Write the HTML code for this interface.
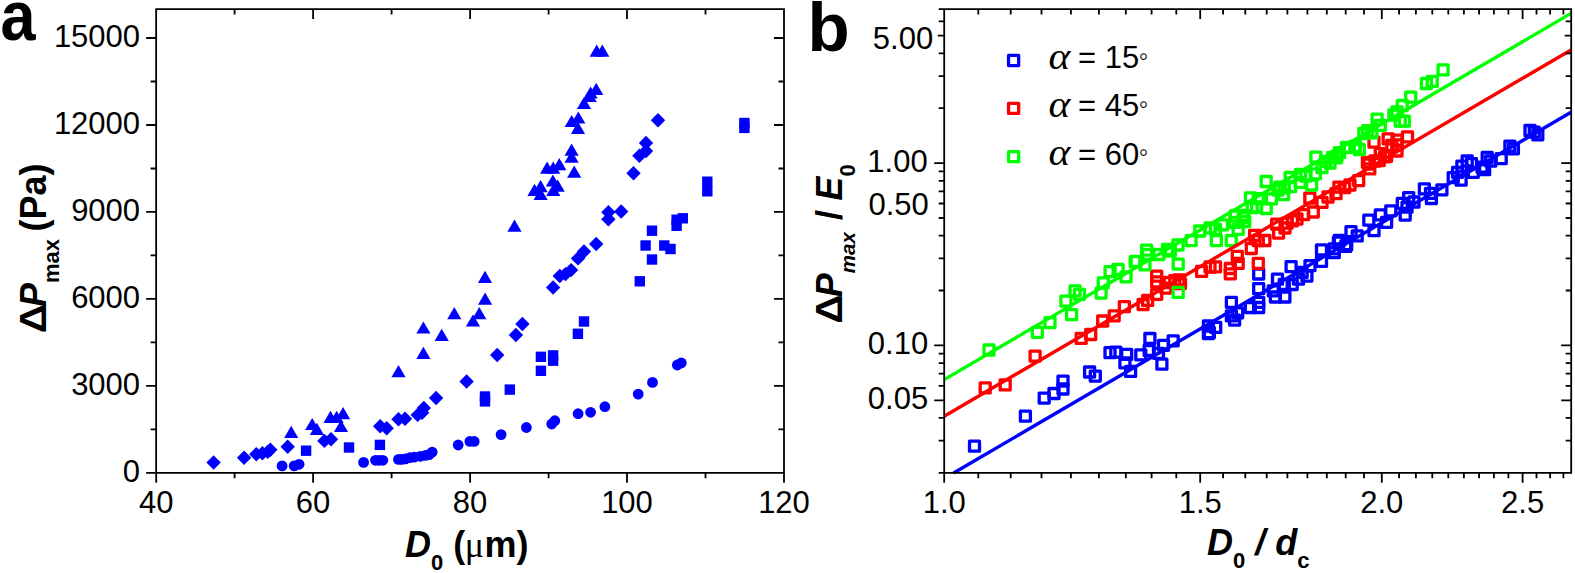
<!DOCTYPE html>
<html lang="en"><head><meta charset="utf-8"><title>Figure</title>
<style>html,body{margin:0;padding:0;background:#fff}svg{display:block}text{font-family:"Liberation Sans",Arial,sans-serif;fill:#000}.t{font-size:31px}.b{font-weight:bold}.i{font-style:italic}.al{font-family:"Liberation Serif","DejaVu Serif",serif;font-style:italic}</style></head><body>
<svg width="1575" height="573" viewBox="0 0 1575 573">
<rect width="1575" height="573" fill="#fff"/>
<g id="panel-a">
<g fill="#0000ff">
<circle cx="282.1" cy="465.9" r="5.4"/>
<circle cx="294.2" cy="465.9" r="5.4"/>
<circle cx="299.1" cy="464.3" r="5.4"/>
<circle cx="363.6" cy="462.4" r="5.4"/>
<circle cx="375.5" cy="460.3" r="5.4"/>
<circle cx="379.0" cy="460.3" r="5.4"/>
<circle cx="382.8" cy="460.3" r="5.4"/>
<circle cx="398.5" cy="459.4" r="5.4"/>
<circle cx="402.0" cy="459.4" r="5.4"/>
<circle cx="405.5" cy="458.9" r="5.4"/>
<circle cx="409.9" cy="457.7" r="5.4"/>
<circle cx="414.2" cy="457.1" r="5.4"/>
<circle cx="420.3" cy="456.3" r="5.4"/>
<circle cx="425.6" cy="455.4" r="5.4"/>
<circle cx="429.1" cy="454.7" r="5.4"/>
<circle cx="432.2" cy="452.1" r="5.4"/>
<circle cx="458.2" cy="445.0" r="5.4"/>
<circle cx="469.9" cy="441.4" r="5.4"/>
<circle cx="474.2" cy="441.4" r="5.4"/>
<circle cx="501.1" cy="434.6" r="5.4"/>
<circle cx="526.4" cy="427.5" r="5.4"/>
<circle cx="551.7" cy="424.0" r="5.4"/>
<circle cx="554.8" cy="420.7" r="5.4"/>
<circle cx="578.1" cy="413.7" r="5.4"/>
<circle cx="590.6" cy="412.3" r="5.4"/>
<circle cx="604.9" cy="406.7" r="5.4"/>
<circle cx="638.2" cy="394.1" r="5.4"/>
<circle cx="652.5" cy="382.4" r="5.4"/>
<circle cx="677.3" cy="365.0" r="5.4"/>
<circle cx="681.3" cy="363.0" r="5.4"/>
<rect x="300.9" y="445.5" width="10.4" height="10.4"/>
<rect x="343.8" y="442.3" width="10.4" height="10.4"/>
<rect x="374.7" y="439.7" width="10.4" height="10.4"/>
<rect x="479.8" y="391.3" width="10.4" height="10.4"/>
<rect x="479.8" y="396.2" width="10.4" height="10.4"/>
<rect x="504.6" y="384.4" width="10.4" height="10.4"/>
<rect x="535.7" y="351.6" width="10.4" height="10.4"/>
<rect x="535.7" y="365.6" width="10.4" height="10.4"/>
<rect x="547.9" y="350.2" width="10.4" height="10.4"/>
<rect x="547.9" y="355.5" width="10.4" height="10.4"/>
<rect x="572.7" y="328.6" width="10.4" height="10.4"/>
<rect x="578.8" y="316.3" width="10.4" height="10.4"/>
<rect x="634.6" y="276.1" width="10.4" height="10.4"/>
<rect x="646.8" y="254.3" width="10.4" height="10.4"/>
<rect x="640.4" y="240.3" width="10.4" height="10.4"/>
<rect x="659.1" y="240.3" width="10.4" height="10.4"/>
<rect x="665.3" y="243.8" width="10.4" height="10.4"/>
<rect x="646.8" y="225.5" width="10.4" height="10.4"/>
<rect x="671.4" y="220.6" width="10.4" height="10.4"/>
<rect x="671.4" y="214.5" width="10.4" height="10.4"/>
<rect x="677.6" y="213.1" width="10.4" height="10.4"/>
<rect x="702.1" y="176.5" width="10.4" height="10.4"/>
<rect x="702.1" y="186.1" width="10.4" height="10.4"/>
<rect x="739.2" y="117.8" width="10.4" height="10.4"/>
<rect x="739.2" y="122.7" width="10.4" height="10.4"/>
<path d="M213.6 455.3L220.8 462.5L213.6 469.7L206.4 462.5Z"/>
<path d="M244.1 450.5L251.3 457.7L244.1 464.9L236.9 457.7Z"/>
<path d="M256.3 447.0L263.5 454.2L256.3 461.4L249.1 454.2Z"/>
<path d="M262.4 446.1L269.6 453.3L262.4 460.5L255.2 453.3Z"/>
<path d="M267.7 444.7L274.9 451.9L267.7 459.1L260.5 451.9Z"/>
<path d="M270.3 442.6L277.5 449.8L270.3 457.0L263.1 449.8Z"/>
<path d="M287.7 439.6L294.9 446.8L287.7 454.0L280.5 446.8Z"/>
<path d="M324.4 433.7L331.6 440.9L324.4 448.1L317.2 440.9Z"/>
<path d="M331.0 432.1L338.2 439.3L331.0 446.5L323.8 439.3Z"/>
<path d="M380.2 419.0L387.4 426.2L380.2 433.4L373.0 426.2Z"/>
<path d="M386.7 421.1L393.9 428.3L386.7 435.5L379.5 428.3Z"/>
<path d="M398.5 412.1L405.7 419.3L398.5 426.5L391.3 419.3Z"/>
<path d="M405.0 411.5L412.2 418.7L405.0 425.9L397.8 418.7Z"/>
<path d="M417.7 407.7L424.9 414.9L417.7 422.1L410.5 414.9Z"/>
<path d="M422.1 405.6L429.3 412.8L422.1 420.0L414.9 412.8Z"/>
<path d="M423.8 400.8L431.0 408.0L423.8 415.2L416.6 408.0Z"/>
<path d="M436.1 390.8L443.3 398.0L436.1 405.2L428.9 398.0Z"/>
<path d="M466.6 374.3L473.8 381.5L466.6 388.7L459.4 381.5Z"/>
<path d="M497.2 347.8L504.4 355.0L497.2 362.2L490.0 355.0Z"/>
<path d="M515.9 327.8L523.1 335.0L515.9 342.2L508.7 335.0Z"/>
<path d="M522.4 316.8L529.6 324.0L522.4 331.2L515.2 324.0Z"/>
<path d="M553.1 280.3L560.3 287.5L553.1 294.7L545.9 287.5Z"/>
<path d="M559.8 268.8L567.0 276.0L559.8 283.2L552.6 276.0Z"/>
<path d="M565.5 266.9L572.7 274.1L565.5 281.3L558.3 274.1Z"/>
<path d="M571.1 262.9L578.3 270.1L571.1 277.3L563.9 270.1Z"/>
<path d="M578.0 251.2L585.2 258.4L578.0 265.6L570.8 258.4Z"/>
<path d="M584.0 244.3L591.2 251.5L584.0 258.7L576.8 251.5Z"/>
<path d="M596.2 236.8L603.4 244.0L596.2 251.2L589.0 244.0Z"/>
<path d="M608.4 205.1L615.6 212.3L608.4 219.5L601.2 212.3Z"/>
<path d="M608.4 212.1L615.6 219.3L608.4 226.5L601.2 219.3Z"/>
<path d="M621.2 204.3L628.4 211.5L621.2 218.7L614.0 211.5Z"/>
<path d="M633.5 166.1L640.7 173.3L633.5 180.5L626.3 173.3Z"/>
<path d="M639.4 148.6L646.6 155.8L639.4 163.0L632.2 155.8Z"/>
<path d="M646.0 143.8L653.2 151.0L646.0 158.2L638.8 151.0Z"/>
<path d="M646.0 135.8L653.2 143.0L646.0 150.2L638.8 143.0Z"/>
<path d="M658.0 113.1L665.2 120.3L658.0 127.5L650.8 120.3Z"/>
<path d="M291.2 425.7L298.3 437.9L284.1 437.9Z"/>
<path d="M312.2 417.9L319.3 430.1L305.1 430.1Z"/>
<path d="M316.9 422.8L324.0 435.0L309.8 435.0Z"/>
<path d="M330.5 410.7L337.6 422.9L323.4 422.9Z"/>
<path d="M336.6 410.7L343.7 422.9L329.5 422.9Z"/>
<path d="M343.1 407.1L350.2 419.3L336.0 419.3Z"/>
<path d="M341.0 419.9L348.1 432.1L333.9 432.1Z"/>
<path d="M398.5 365.1L405.6 377.3L391.4 377.3Z"/>
<path d="M423.4 346.7L430.5 358.9L416.3 358.9Z"/>
<path d="M423.4 321.4L430.5 333.6L416.3 333.6Z"/>
<path d="M441.7 328.8L448.8 341.0L434.6 341.0Z"/>
<path d="M454.3 307.1L461.4 319.3L447.2 319.3Z"/>
<path d="M473.0 314.4L480.1 326.6L465.9 326.6Z"/>
<path d="M479.3 307.1L486.4 319.3L472.2 319.3Z"/>
<path d="M485.1 292.6L492.2 304.8L478.0 304.8Z"/>
<path d="M485.0 270.8L492.1 283.0L477.9 283.0Z"/>
<path d="M514.5 219.6L521.6 231.8L507.4 231.8Z"/>
<path d="M552.9 174.4L560.0 186.6L545.8 186.6Z"/>
<path d="M557.7 179.6L564.8 191.8L550.6 191.8Z"/>
<path d="M553.3 183.7L560.4 195.9L546.2 195.9Z"/>
<path d="M540.6 180.0L547.7 192.2L533.5 192.2Z"/>
<path d="M534.5 183.7L541.6 195.9L527.4 195.9Z"/>
<path d="M540.6 187.9L547.7 200.1L533.5 200.1Z"/>
<path d="M547.1 161.6L554.2 173.8L540.0 173.8Z"/>
<path d="M553.2 161.6L560.3 173.8L546.1 173.8Z"/>
<path d="M559.3 158.1L566.4 170.3L552.2 170.3Z"/>
<path d="M574.2 165.5L581.3 177.7L567.1 177.7Z"/>
<path d="M571.6 150.6L578.7 162.8L564.5 162.8Z"/>
<path d="M571.6 143.6L578.7 155.8L564.5 155.8Z"/>
<path d="M578.0 121.7L585.1 133.9L570.9 133.9Z"/>
<path d="M571.7 114.9L578.8 127.1L564.6 127.1Z"/>
<path d="M578.3 111.4L585.4 123.6L571.2 123.6Z"/>
<path d="M584.0 96.9L591.1 109.1L576.9 109.1Z"/>
<path d="M589.7 89.9L596.8 102.1L582.6 102.1Z"/>
<path d="M590.6 86.4L597.7 98.6L583.5 98.6Z"/>
<path d="M596.2 82.7L603.3 94.9L589.1 94.9Z"/>
<path d="M596.7 44.5L603.8 56.7L589.6 56.7Z"/>
<path d="M602.3 44.5L609.4 56.7L595.2 56.7Z"/>
</g>
<path d="M156.15 9.05H784.0V472.8H156.15Z M156.2 472.8v10 M234.6 472.8v5.5 M234.6 9.05v5.5 M313.1 472.8v10 M313.1 9.05v10 M391.6 472.8v5.5 M391.6 9.05v5.5 M470.1 472.8v10 M470.1 9.05v10 M548.6 472.8v5.5 M548.6 9.05v5.5 M627.0 472.8v10 M627.0 9.05v10 M705.5 472.8v5.5 M705.5 9.05v5.5 M784.0 472.8v10 M156.15 472.8h-10 M156.15 429.3h-5.5 M784.0 429.3h-5.5 M156.15 385.8h-10 M784.0 385.8h-10 M156.15 342.4h-5.5 M784.0 342.4h-5.5 M156.15 298.9h-10 M784.0 298.9h-10 M156.15 255.4h-5.5 M784.0 255.4h-5.5 M156.15 211.9h-10 M784.0 211.9h-10 M156.15 168.5h-5.5 M784.0 168.5h-5.5 M156.15 125.0h-10 M784.0 125.0h-10 M156.15 81.5h-5.5 M784.0 81.5h-5.5 M156.15 38.0h-10 M784.0 38.0h-10" fill="none" stroke="#000" stroke-width="1.8" stroke-linecap="butt"/>
<text class="t" x="140.1" y="482.1" text-anchor="end">0</text>
<text class="t" x="140.1" y="395.1" text-anchor="end">3000</text>
<text class="t" x="140.1" y="308.2" text-anchor="end">6000</text>
<text class="t" x="140.1" y="221.2" text-anchor="end">9000</text>
<text class="t" x="140.1" y="134.3" text-anchor="end">12000</text>
<text class="t" x="140.1" y="47.3" text-anchor="end">15000</text>
<text class="t" x="156.2" y="512.8" text-anchor="middle">40</text>
<text class="t" x="313.1" y="512.8" text-anchor="middle">60</text>
<text class="t" x="470.1" y="512.8" text-anchor="middle">80</text>
<text class="t" x="627.0" y="512.8" text-anchor="middle">100</text>
<text class="t" x="784.0" y="512.8" text-anchor="middle">120</text>
<text class="b" transform="translate(0.5 39.8) scale(0.9 1)" font-size="70">a</text>
<text class="b" x="405" y="557.4" font-size="36"><tspan class="i">D</tspan><tspan font-size="22" dy="12.5">0</tspan><tspan dy="-12.5"> (</tspan><tspan font-family="Liberation Serif,serif" font-weight="normal" dx="-0.5">μ</tspan><tspan dx="0.5">m)</tspan></text>
<text class="b" transform="translate(46 333.3) rotate(-90) scale(1.13 1)" font-size="36">Δ</text>
<text class="b" transform="translate(46 307) rotate(-90)" font-size="36"><tspan class="i">P</tspan><tspan font-size="22" dy="13">max</tspan><tspan dy="-13" dx="-2.5"> (Pa)</tspan></text>
</g>
<g id="panel-b">
<g fill="none" stroke="#0000ff" stroke-width="3.3" stroke-linejoin="round">
<rect x="969.5" y="441.2" width="10.0" height="10.0"/>
<rect x="1020.4" y="411.2" width="10.0" height="10.0"/>
<rect x="1039.2" y="393.1" width="10.0" height="10.0"/>
<rect x="1049.0" y="388.5" width="10.0" height="10.0"/>
<rect x="1058.0" y="384.0" width="10.0" height="10.0"/>
<rect x="1058.0" y="376.1" width="10.0" height="10.0"/>
<rect x="1084.6" y="367.0" width="10.0" height="10.0"/>
<rect x="1090.3" y="371.1" width="10.0" height="10.0"/>
<rect x="1105.0" y="347.7" width="10.0" height="10.0"/>
<rect x="1110.8" y="347.1" width="10.0" height="10.0"/>
<rect x="1121.7" y="349.4" width="10.0" height="10.0"/>
<rect x="1119.9" y="357.8" width="10.0" height="10.0"/>
<rect x="1125.6" y="366.4" width="10.0" height="10.0"/>
<rect x="1135.8" y="349.9" width="10.0" height="10.0"/>
<rect x="1144.9" y="333.5" width="10.0" height="10.0"/>
<rect x="1144.2" y="345.5" width="10.0" height="10.0"/>
<rect x="1158.5" y="340.3" width="10.0" height="10.0"/>
<rect x="1153.5" y="348.3" width="10.0" height="10.0"/>
<rect x="1156.9" y="359.2" width="10.0" height="10.0"/>
<rect x="1168.2" y="335.8" width="10.0" height="10.0"/>
<rect x="1203.4" y="321.0" width="10.0" height="10.0"/>
<rect x="1203.4" y="328.5" width="10.0" height="10.0"/>
<rect x="1204.4" y="327.7" width="10.0" height="10.0"/>
<rect x="1210.7" y="322.4" width="10.0" height="10.0"/>
<rect x="1226.4" y="297.3" width="10.0" height="10.0"/>
<rect x="1226.4" y="310.9" width="10.0" height="10.0"/>
<rect x="1232.7" y="307.8" width="10.0" height="10.0"/>
<rect x="1229.6" y="315.1" width="10.0" height="10.0"/>
<rect x="1245.3" y="302.5" width="10.0" height="10.0"/>
<rect x="1253.7" y="297.3" width="10.0" height="10.0"/>
<rect x="1253.7" y="283.7" width="10.0" height="10.0"/>
<rect x="1253.7" y="269.0" width="10.0" height="10.0"/>
<rect x="1253.7" y="302.5" width="10.0" height="10.0"/>
<rect x="1268.3" y="285.8" width="10.0" height="10.0"/>
<rect x="1272.5" y="274.2" width="10.0" height="10.0"/>
<rect x="1270.4" y="292.0" width="10.0" height="10.0"/>
<rect x="1279.9" y="292.0" width="10.0" height="10.0"/>
<rect x="1287.2" y="279.5" width="10.0" height="10.0"/>
<rect x="1286.1" y="261.7" width="10.0" height="10.0"/>
<rect x="1293.5" y="274.2" width="10.0" height="10.0"/>
<rect x="1301.9" y="271.1" width="10.0" height="10.0"/>
<rect x="1305.0" y="260.6" width="10.0" height="10.0"/>
<rect x="1316.5" y="244.9" width="10.0" height="10.0"/>
<rect x="1316.5" y="256.4" width="10.0" height="10.0"/>
<rect x="1329.1" y="243.9" width="10.0" height="10.0"/>
<rect x="1334.3" y="235.5" width="10.0" height="10.0"/>
<rect x="1341.7" y="239.7" width="10.0" height="10.0"/>
<rect x="1329.2" y="247.7" width="10.0" height="10.0"/>
<rect x="1333.4" y="237.2" width="10.0" height="10.0"/>
<rect x="1340.7" y="241.4" width="10.0" height="10.0"/>
<rect x="1346.0" y="226.7" width="10.0" height="10.0"/>
<rect x="1352.2" y="230.9" width="10.0" height="10.0"/>
<rect x="1363.8" y="215.2" width="10.0" height="10.0"/>
<rect x="1369.0" y="225.7" width="10.0" height="10.0"/>
<rect x="1375.3" y="209.9" width="10.0" height="10.0"/>
<rect x="1381.6" y="217.3" width="10.0" height="10.0"/>
<rect x="1385.8" y="205.8" width="10.0" height="10.0"/>
<rect x="1397.3" y="198.4" width="10.0" height="10.0"/>
<rect x="1279.3" y="279.3" width="10.0" height="10.0"/>
<rect x="1297.1" y="267.4" width="10.0" height="10.0"/>
<rect x="1529.3" y="127.2" width="10.0" height="10.0"/>
<rect x="1532.8" y="129.8" width="10.0" height="10.0"/>
<rect x="1525.0" y="125.5" width="10.0" height="10.0"/>
<rect x="1504.9" y="141.2" width="10.0" height="10.0"/>
<rect x="1508.4" y="143.8" width="10.0" height="10.0"/>
<rect x="1496.2" y="153.7" width="10.0" height="10.0"/>
<rect x="1482.2" y="152.5" width="10.0" height="10.0"/>
<rect x="1485.7" y="156.0" width="10.0" height="10.0"/>
<rect x="1477.0" y="162.1" width="10.0" height="10.0"/>
<rect x="1479.6" y="164.7" width="10.0" height="10.0"/>
<rect x="1462.2" y="156.0" width="10.0" height="10.0"/>
<rect x="1466.5" y="158.6" width="10.0" height="10.0"/>
<rect x="1456.9" y="161.2" width="10.0" height="10.0"/>
<rect x="1468.3" y="167.3" width="10.0" height="10.0"/>
<rect x="1452.6" y="167.3" width="10.0" height="10.0"/>
<rect x="1448.2" y="172.6" width="10.0" height="10.0"/>
<rect x="1456.1" y="175.2" width="10.0" height="10.0"/>
<rect x="1436.9" y="184.8" width="10.0" height="10.0"/>
<rect x="1419.4" y="183.9" width="10.0" height="10.0"/>
<rect x="1425.5" y="188.3" width="10.0" height="10.0"/>
<rect x="1426.4" y="193.5" width="10.0" height="10.0"/>
<rect x="1403.7" y="192.6" width="10.0" height="10.0"/>
<rect x="1409.0" y="197.0" width="10.0" height="10.0"/>
<rect x="1402.0" y="202.2" width="10.0" height="10.0"/>
<rect x="1400.2" y="210.1" width="10.0" height="10.0"/>
</g>
<g fill="none" stroke="#ff0000" stroke-width="3.3" stroke-linejoin="round">
<rect x="980.2" y="382.9" width="10.0" height="10.0"/>
<rect x="1000.2" y="379.9" width="10.0" height="10.0"/>
<rect x="1030.1" y="351.1" width="10.0" height="10.0"/>
<rect x="1076.2" y="333.4" width="10.0" height="10.0"/>
<rect x="1085.7" y="329.5" width="10.0" height="10.0"/>
<rect x="1097.7" y="316.0" width="10.0" height="10.0"/>
<rect x="1109.2" y="310.8" width="10.0" height="10.0"/>
<rect x="1119.4" y="301.7" width="10.0" height="10.0"/>
<rect x="1138.1" y="299.5" width="10.0" height="10.0"/>
<rect x="1142.6" y="295.4" width="10.0" height="10.0"/>
<rect x="1151.7" y="289.3" width="10.0" height="10.0"/>
<rect x="1151.7" y="271.1" width="10.0" height="10.0"/>
<rect x="1151.7" y="276.8" width="10.0" height="10.0"/>
<rect x="1160.8" y="283.1" width="10.0" height="10.0"/>
<rect x="1169.8" y="275.6" width="10.0" height="10.0"/>
<rect x="1175.5" y="278.6" width="10.0" height="10.0"/>
<rect x="1196.6" y="266.4" width="10.0" height="10.0"/>
<rect x="1205.0" y="262.0" width="10.0" height="10.0"/>
<rect x="1164.3" y="277.5" width="10.0" height="10.0"/>
<rect x="1173.9" y="274.9" width="10.0" height="10.0"/>
<rect x="1210.5" y="261.8" width="10.0" height="10.0"/>
<rect x="1225.3" y="263.5" width="10.0" height="10.0"/>
<rect x="1225.3" y="268.8" width="10.0" height="10.0"/>
<rect x="1232.3" y="251.3" width="10.0" height="10.0"/>
<rect x="1233.2" y="258.3" width="10.0" height="10.0"/>
<rect x="1246.3" y="243.5" width="10.0" height="10.0"/>
<rect x="1253.3" y="235.6" width="10.0" height="10.0"/>
<rect x="1253.3" y="258.3" width="10.0" height="10.0"/>
<rect x="1259.9" y="235.5" width="10.0" height="10.0"/>
<rect x="1273.6" y="228.1" width="10.0" height="10.0"/>
<rect x="1271.6" y="219.2" width="10.0" height="10.0"/>
<rect x="1287.4" y="215.8" width="10.0" height="10.0"/>
<rect x="1298.7" y="209.6" width="10.0" height="10.0"/>
<rect x="1308.3" y="207.0" width="10.0" height="10.0"/>
<rect x="1304.8" y="193.1" width="10.0" height="10.0"/>
<rect x="1317.0" y="197.4" width="10.0" height="10.0"/>
<rect x="1331.0" y="188.7" width="10.0" height="10.0"/>
<rect x="1339.7" y="182.6" width="10.0" height="10.0"/>
<rect x="1353.7" y="175.6" width="10.0" height="10.0"/>
<rect x="1362.4" y="157.3" width="10.0" height="10.0"/>
<rect x="1364.8" y="163.9" width="10.0" height="10.0"/>
<rect x="1374.2" y="155.5" width="10.0" height="10.0"/>
<rect x="1381.6" y="151.3" width="10.0" height="10.0"/>
<rect x="1392.0" y="146.0" width="10.0" height="10.0"/>
<rect x="1402.5" y="131.9" width="10.0" height="10.0"/>
<rect x="1392.0" y="135.1" width="10.0" height="10.0"/>
<rect x="1386.8" y="140.3" width="10.0" height="10.0"/>
<rect x="1369.0" y="137.2" width="10.0" height="10.0"/>
<rect x="1375.3" y="148.7" width="10.0" height="10.0"/>
<rect x="1379.5" y="151.9" width="10.0" height="10.0"/>
<rect x="1370.0" y="156.0" width="10.0" height="10.0"/>
<rect x="1363.8" y="159.2" width="10.0" height="10.0"/>
<rect x="1280.0" y="223.0" width="10.0" height="10.0"/>
<rect x="1292.0" y="214.0" width="10.0" height="10.0"/>
<rect x="1323.0" y="192.0" width="10.0" height="10.0"/>
<rect x="1345.0" y="180.0" width="10.0" height="10.0"/>
<rect x="1249.6" y="230.3" width="10.0" height="10.0"/>
<rect x="1383.2" y="133.9" width="10.0" height="10.0"/>
<rect x="1392.1" y="139.8" width="10.0" height="10.0"/>
<rect x="1282.1" y="218.2" width="10.0" height="10.0"/>
<rect x="1333.9" y="182.1" width="10.0" height="10.0"/>
</g>
<g fill="none" stroke="#00ff00" stroke-width="3.3" stroke-linejoin="round">
<rect x="984.0" y="345.0" width="10.0" height="10.0"/>
<rect x="1032.4" y="327.3" width="10.0" height="10.0"/>
<rect x="1045.0" y="317.6" width="10.0" height="10.0"/>
<rect x="1060.9" y="296.1" width="10.0" height="10.0"/>
<rect x="1066.6" y="309.7" width="10.0" height="10.0"/>
<rect x="1070.0" y="285.9" width="10.0" height="10.0"/>
<rect x="1074.5" y="289.3" width="10.0" height="10.0"/>
<rect x="1096.1" y="288.1" width="10.0" height="10.0"/>
<rect x="1098.3" y="277.9" width="10.0" height="10.0"/>
<rect x="1105.1" y="266.6" width="10.0" height="10.0"/>
<rect x="1113.1" y="264.3" width="10.0" height="10.0"/>
<rect x="1121.0" y="271.8" width="10.0" height="10.0"/>
<rect x="1131.2" y="256.3" width="10.0" height="10.0"/>
<rect x="1139.9" y="259.8" width="10.0" height="10.0"/>
<rect x="1142.6" y="249.5" width="10.0" height="10.0"/>
<rect x="1153.9" y="249.5" width="10.0" height="10.0"/>
<rect x="1173.2" y="259.1" width="10.0" height="10.0"/>
<rect x="1173.2" y="287.4" width="10.0" height="10.0"/>
<rect x="1165.3" y="246.1" width="10.0" height="10.0"/>
<rect x="1130.2" y="256.6" width="10.0" height="10.0"/>
<rect x="1141.6" y="245.2" width="10.0" height="10.0"/>
<rect x="1162.5" y="244.3" width="10.0" height="10.0"/>
<rect x="1173.0" y="240.0" width="10.0" height="10.0"/>
<rect x="1186.1" y="235.6" width="10.0" height="10.0"/>
<rect x="1194.8" y="226.0" width="10.0" height="10.0"/>
<rect x="1210.5" y="224.3" width="10.0" height="10.0"/>
<rect x="1211.4" y="235.6" width="10.0" height="10.0"/>
<rect x="1217.5" y="219.9" width="10.0" height="10.0"/>
<rect x="1226.2" y="235.6" width="10.0" height="10.0"/>
<rect x="1229.7" y="217.3" width="10.0" height="10.0"/>
<rect x="1233.2" y="224.3" width="10.0" height="10.0"/>
<rect x="1238.4" y="212.9" width="10.0" height="10.0"/>
<rect x="1247.2" y="202.5" width="10.0" height="10.0"/>
<rect x="1245.4" y="192.9" width="10.0" height="10.0"/>
<rect x="1253.3" y="193.7" width="10.0" height="10.0"/>
<rect x="1261.2" y="176.5" width="10.0" height="10.0"/>
<rect x="1310.9" y="152.1" width="10.0" height="10.0"/>
<rect x="1350.2" y="141.6" width="10.0" height="10.0"/>
<rect x="1238.5" y="210.5" width="10.0" height="10.0"/>
<rect x="1251.6" y="201.8" width="10.0" height="10.0"/>
<rect x="1261.2" y="203.5" width="10.0" height="10.0"/>
<rect x="1266.4" y="193.9" width="10.0" height="10.0"/>
<rect x="1278.6" y="189.6" width="10.0" height="10.0"/>
<rect x="1285.6" y="181.7" width="10.0" height="10.0"/>
<rect x="1295.2" y="177.4" width="10.0" height="10.0"/>
<rect x="1306.6" y="180.0" width="10.0" height="10.0"/>
<rect x="1317.0" y="162.5" width="10.0" height="10.0"/>
<rect x="1320.5" y="156.4" width="10.0" height="10.0"/>
<rect x="1331.9" y="151.2" width="10.0" height="10.0"/>
<rect x="1341.5" y="142.5" width="10.0" height="10.0"/>
<rect x="1358.9" y="128.5" width="10.0" height="10.0"/>
<rect x="1438.1" y="64.9" width="10.0" height="10.0"/>
<rect x="1427.2" y="76.4" width="10.0" height="10.0"/>
<rect x="1421.4" y="78.5" width="10.0" height="10.0"/>
<rect x="1405.7" y="92.1" width="10.0" height="10.0"/>
<rect x="1397.3" y="100.5" width="10.0" height="10.0"/>
<rect x="1392.0" y="106.8" width="10.0" height="10.0"/>
<rect x="1388.9" y="110.0" width="10.0" height="10.0"/>
<rect x="1395.2" y="116.2" width="10.0" height="10.0"/>
<rect x="1399.4" y="116.2" width="10.0" height="10.0"/>
<rect x="1372.1" y="114.1" width="10.0" height="10.0"/>
<rect x="1375.3" y="120.4" width="10.0" height="10.0"/>
<rect x="1362.7" y="125.7" width="10.0" height="10.0"/>
<rect x="1366.9" y="127.8" width="10.0" height="10.0"/>
<rect x="1350.1" y="141.4" width="10.0" height="10.0"/>
<rect x="1354.3" y="144.5" width="10.0" height="10.0"/>
<rect x="1331.3" y="152.9" width="10.0" height="10.0"/>
<rect x="1334.4" y="147.7" width="10.0" height="10.0"/>
<rect x="1273.0" y="185.0" width="10.0" height="10.0"/>
<rect x="1301.0" y="171.0" width="10.0" height="10.0"/>
<rect x="1325.0" y="158.0" width="10.0" height="10.0"/>
<rect x="1285.2" y="172.5" width="10.0" height="10.0"/>
<rect x="1295.6" y="169.5" width="10.0" height="10.0"/>
<rect x="1279.3" y="182.9" width="10.0" height="10.0"/>
<rect x="1230.3" y="211.0" width="10.0" height="10.0"/>
<rect x="1205.1" y="222.9" width="10.0" height="10.0"/>
<rect x="1239.7" y="216.6" width="10.0" height="10.0"/>
<rect x="1275.0" y="182.1" width="10.0" height="10.0"/>
<rect x="1310.4" y="168.8" width="10.0" height="10.0"/>
<rect x="1327.6" y="152.3" width="10.0" height="10.0"/>
</g>
<path d="M944.2 379.6L1571.0 13.4" stroke="#00ff00" stroke-width="3.4" fill="none"/>
<path d="M944.2 416.2L1571.0 50.0" stroke="#ff0000" stroke-width="3.4" fill="none"/>
<path d="M953.6 473.0L1571.0 112.3" stroke="#0000ff" stroke-width="3.4" fill="none"/>
<rect x="1008.55" y="55.45" width="10.1" height="10.1" fill="none" stroke="#0000ff" stroke-width="3.3" stroke-linejoin="round"/>
<text class="al" transform="translate(1048.6 68.8) scale(1.22 1.12)" font-size="34">α</text>
<text class="t" x="1078" y="68.4">= 15</text>
<text x="1138.6" y="65.3" font-size="27">◦</text>
<rect x="1008.55" y="103.35" width="10.1" height="10.1" fill="none" stroke="#ff0000" stroke-width="3.3" stroke-linejoin="round"/>
<text class="al" transform="translate(1048.6 116.7) scale(1.22 1.12)" font-size="34">α</text>
<text class="t" x="1078" y="116.3">= 45</text>
<text x="1138.6" y="113.2" font-size="27">◦</text>
<rect x="1008.55" y="151.55" width="10.1" height="10.1" fill="none" stroke="#00ff00" stroke-width="3.3" stroke-linejoin="round"/>
<text class="al" transform="translate(1048.6 164.9) scale(1.22 1.12)" font-size="34">α</text>
<text class="t" x="1078" y="164.5">= 60</text>
<text x="1138.6" y="161.4" font-size="27">◦</text>
<path d="M944.2 9.05H1571.2V472.8H944.2Z M944.2 472.8v10 M978.3 472.8v5.5 M978.3 9.05v5.5 M1010.7 472.8v5.5 M1010.7 9.05v5.5 M1041.5 472.8v5.5 M1041.5 9.05v5.5 M1070.9 472.8v5.5 M1070.9 9.05v5.5 M1098.9 472.8v5.5 M1098.9 9.05v5.5 M1125.8 472.8v5.5 M1125.8 9.05v5.5 M1151.6 472.8v5.5 M1151.6 9.05v5.5 M1176.3 472.8v5.5 M1176.3 9.05v5.5 M1200.2 472.8v10 M1200.2 9.05v10 M1223.1 472.8v5.5 M1223.1 9.05v5.5 M1245.3 472.8v5.5 M1245.3 9.05v5.5 M1266.7 472.8v5.5 M1266.7 9.05v5.5 M1287.4 472.8v5.5 M1287.4 9.05v5.5 M1307.4 472.8v5.5 M1307.4 9.05v5.5 M1326.8 472.8v5.5 M1326.8 9.05v5.5 M1345.7 472.8v5.5 M1345.7 9.05v5.5 M1364.0 472.8v5.5 M1364.0 9.05v5.5 M1381.8 472.8v10 M1381.8 9.05v10 M1399.1 472.8v5.5 M1399.1 9.05v5.5 M1415.9 472.8v5.5 M1415.9 9.05v5.5 M1432.3 472.8v5.5 M1432.3 9.05v5.5 M1448.3 472.8v5.5 M1448.3 9.05v5.5 M1463.9 472.8v5.5 M1463.9 9.05v5.5 M1479.1 472.8v5.5 M1479.1 9.05v5.5 M1493.9 472.8v5.5 M1493.9 9.05v5.5 M1508.4 472.8v5.5 M1508.4 9.05v5.5 M1522.6 472.8v10 M1522.6 9.05v10 M1536.5 472.8v5.5 M1536.5 9.05v5.5 M1550.1 472.8v5.5 M1550.1 9.05v5.5 M1563.4 472.8v5.5 M1563.4 9.05v5.5 M944.2 9.1h-5.5 M944.2 21.3h-5.5 M1571.2 21.3h-5.5 M944.2 35.7h-6.5 M1571.2 35.7h-6.5 M944.2 53.4h-5.5 M1571.2 53.4h-5.5 M944.2 76.1h-5.5 M1571.2 76.1h-5.5 M944.2 108.2h-5.5 M1571.2 108.2h-5.5 M944.2 163.1h-10 M1571.2 163.1h-10 M944.2 171.4h-5.5 M1571.2 171.4h-5.5 M944.2 180.8h-5.5 M1571.2 180.8h-5.5 M944.2 191.3h-5.5 M1571.2 191.3h-5.5 M944.2 203.5h-5.5 M1571.2 203.5h-5.5 M944.2 218.0h-5.5 M1571.2 218.0h-5.5 M944.2 235.6h-5.5 M1571.2 235.6h-5.5 M944.2 258.4h-5.5 M1571.2 258.4h-5.5 M944.2 290.5h-5.5 M1571.2 290.5h-5.5 M944.2 345.4h-10 M1571.2 345.4h-10 M944.2 353.7h-5.5 M1571.2 353.7h-5.5 M944.2 363.1h-5.5 M1571.2 363.1h-5.5 M944.2 373.6h-5.5 M1571.2 373.6h-5.5 M944.2 385.8h-5.5 M1571.2 385.8h-5.5 M944.2 400.3h-10 M1571.2 400.3h-10 M944.2 417.9h-5.5 M1571.2 417.9h-5.5 M944.2 440.7h-5.5 M1571.2 440.7h-5.5 M944.2 472.8h-5.5" fill="none" stroke="#000" stroke-width="1.8"/>
<text class="t" x="933.2" y="49.0" text-anchor="end">5.00</text>
<text class="t" x="927.7" y="171.6" text-anchor="end">1.00</text>
<text class="t" x="928.8" y="215.2" text-anchor="end">0.50</text>
<text class="t" x="928.2" y="354.1" text-anchor="end">0.10</text>
<text class="t" x="928.2" y="409.0" text-anchor="end">0.05</text>
<text class="t" x="944.2" y="512.8" text-anchor="middle">1.0</text>
<text class="t" x="1200.2" y="512.8" text-anchor="middle">1.5</text>
<text class="t" x="1381.8" y="512.8" text-anchor="middle">2.0</text>
<text class="t" x="1522.6" y="512.8" text-anchor="middle">2.5</text>
<text class="b" x="807.5" y="51" font-size="69">b</text>
<text class="b i" x="1207" y="555.2" font-size="36">D<tspan font-size="22" dy="13" font-style="normal">0</tspan><tspan dy="-13"> / d</tspan><tspan font-size="22" dy="13" font-style="normal">c</tspan></text>
<text class="b" transform="translate(841.8 323.7) rotate(-90) scale(1.13 1)" font-size="36">Δ</text>
<text class="b" transform="translate(841.8 297.2) rotate(-90)" font-size="36"><tspan class="i">P</tspan><tspan class="i" font-size="20.5" dy="13">max</tspan><tspan dy="-13" dx="2.2"> / </tspan><tspan class="i" dx="-0.7">E</tspan><tspan font-size="22" dy="13">0</tspan></text>
</g>
</svg></body></html>
